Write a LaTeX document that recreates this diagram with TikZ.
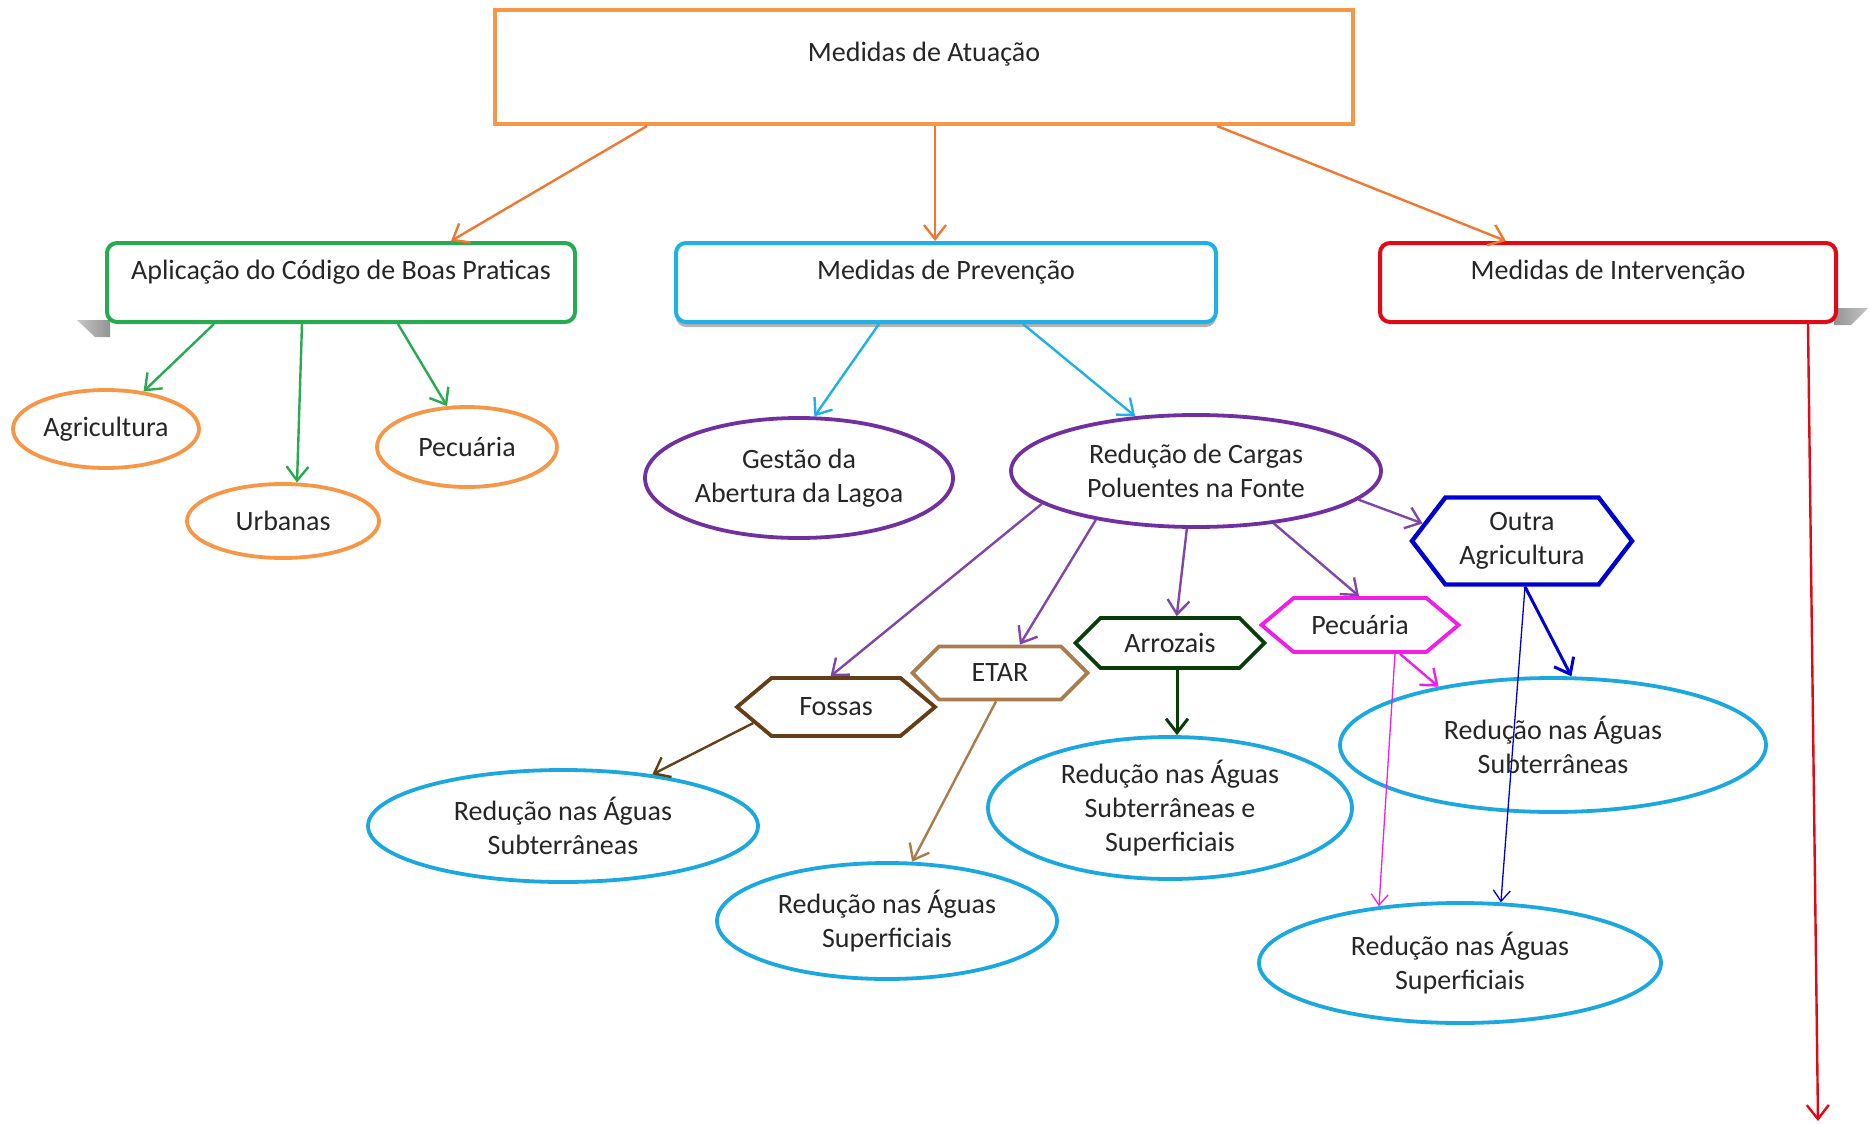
\documentclass[tikz,border=0pt]{standalone}
\usepackage{fontspec}
\setmainfont{Carlito}
\usetikzlibrary{arrows.meta,shapes.geometric,shapes.symbols,shadows}
\definecolor{txt}{RGB}{38,38,38}
\definecolor{orng}{RGB}{247,150,70}
\definecolor{orarrow}{RGB}{240,120,50}
\definecolor{grn}{RGB}{40,170,80}
\definecolor{sky}{RGB}{30,176,230}
\definecolor{cyanell}{RGB}{27,168,222}
\definecolor{redb}{RGB}{225,10,20}
\definecolor{purp}{RGB}{112,48,160}
\definecolor{purparrow}{RGB}{128,70,170}
\definecolor{navy}{RGB}{0,0,210}
\definecolor{mag}{RGB}{240,30,230}
\definecolor{dgreen}{RGB}{10,60,10}
\definecolor{tanc}{RGB}{168,124,76}
\definecolor{brwn}{RGB}{100,62,22}
\begin{document}
\begin{tikzpicture}[x=0.5pt,y=-0.5pt,
  font=\fontsize{14}{17}\selectfont, text=txt,
  box/.style={draw, fill=white, line width=2pt, inner sep=0pt, text height=18.2pt, text depth=21.3pt, rounded corners=5pt},
  ell/.style={ellipse, draw, line width=1.9pt, inner sep=0pt, align=center},
  hexa/.style={signal, signal to=east and west, signal pointer angle=90, draw, line width=1.9pt, inner sep=0pt, align=center},
  arr/.style={line width=1.2pt, -{Straight Barb[length=7pt,width=11pt]}},
  thinarr/.style={line width=0.65pt, -{Straight Barb[length=5.5pt,width=8.5pt]}}
]
\fill[white] (0,0) rectangle (1869,1124);
\useasboundingbox (0,0) rectangle (1869,1124);

% shadow tabs
\shade[left color=gray!45, right color=gray!85] (77,320) -- (110,320) -- (110,337) -- (95,337) -- cycle;
\shade[left color=gray!85, right color=gray!45] (1834,308) -- (1868,308) -- (1851,325) -- (1834,325) -- cycle;

% boxes
\node[box, draw=orng, rounded corners=0pt, minimum width=429pt, text height=25.7pt, text depth=31.3pt] (top) at (924,67) {Medidas de Atuação};
\node[box, draw=grn, minimum width=234pt] (boas) at (341,282.5) {Aplicação do Código de Boas Praticas};
\node[box, draw=sky, minimum width=270pt, drop shadow={shadow xshift=0pt,shadow yshift=-2.5pt,opacity=0.5,fill=black!60}] (prev) at (946,282.5) {Medidas de Prevenção};
\node[box, draw=redb, minimum width=228pt] (interv) at (1608,282.5) {Medidas de Intervenção};

% ellipses
\node[ell, draw=orng, minimum width=93pt, minimum height=39pt] (agri) at (106,429) {Agricultura};
\node[ell, draw=orng, minimum width=96pt, minimum height=37pt] (urb) at (283,521) {Urbanas};
\node[ell, draw=orng, minimum width=90pt, minimum height=40pt] (pecO) at (467,447) {Pecuária};
\node[ell, draw=purp, minimum width=154pt, minimum height=60pt] (gest) at (799,478) {Gestão da\\Abertura da Lagoa};
\node[ell, draw=purp, minimum width=185pt, minimum height=56pt] (cargas) at (1196,471) {Redução de Cargas\\Poluentes na Fonte};
\node[ell, draw=cyanell, minimum width=195pt, minimum height=56pt] (subL) at (563,826) {Redução nas Águas\\Subterrâneas};
\node[ell, draw=cyanell, minimum width=170pt, minimum height=58pt] (supM) at (887,921) {Redução nas Águas\\Superficiais};
\node[ell, draw=cyanell, minimum width=182pt, minimum height=71pt] (ambos) at (1170,808) {Redução nas Águas\\Subterrâneas e\\Superficiais};
\node[ell, draw=cyanell, minimum width=213pt, minimum height=67pt] (subR) at (1553,745) {Redução nas Águas\\Subterrâneas};
\node[ell, draw=cyanell, minimum width=201pt, minimum height=60pt] (supR) at (1460,963) {Redução nas Águas\\Superficiais};

% hexagons
\node[hexa, draw=navy, line width=2.2pt, signal pointer angle=105, minimum width=110pt, minimum height=43.5pt] (outra) at (1522,541) {Outra\\Agricultura};
\node[hexa, draw=mag, signal pointer angle=80, minimum width=98.5pt, minimum height=27pt] (pecM) at (1360,625) {Pecuária};
\node[hexa, draw=dgreen, minimum width=94.5pt, minimum height=25pt] (arroz) at (1170,643) {Arrozais};
\node[hexa, draw=tanc, minimum width=87.5pt, minimum height=26.5pt] (etar) at (1000,673) {ETAR};
\node[hexa, draw=brwn, signal pointer angle=80, minimum width=99pt, minimum height=29pt] (fossas) at (836,707) {Fossas};

\coordinate (redend) at (1818,1121);

% orange arrows
\draw[arr, orarrow] ([xshift=-138.5pt]top.south) -- ([xshift=55pt]boas.north);
\draw[arr, orarrow] ([xshift=5.5pt]top.south) -- ([xshift=-5.5pt]prev.north);
\draw[arr, orarrow] ([xshift=146.5pt]top.south) -- ([xshift=-51pt]interv.north);

% green arrows
\draw[arr, grn] ([xshift=-63.5pt]boas.south) -- (agri.45);
\draw[arr, grn] ([xshift=-19.5pt]boas.south) -- (urb.70);
\draw[arr, grn] ([xshift=28.5pt]boas.south) -- (pecO.116);

% blue arrows
\draw[arr, sky] ([xshift=-33.5pt]prev.south) -- (gest.76);
\draw[arr, sky] ([xshift=38.5pt]prev.south) -- (cargas.138);

% purple arrows
\draw[arr, purparrow] (cargas.192) -- (fossas.100);
\draw[arr, purparrow] (cargas.206) -- (etar.55);
\draw[arr, purparrow] (cargas.261) -- (arroz.76);
\draw[arr, purparrow] (cargas.326) -- (pecM.92);
\draw[arr, purparrow] (cargas.350) -- (outra.170);

% lower arrows
\draw[arr, brwn] (fossas.191) -- (subL.30);
\draw[arr, tanc] (etar.262) -- (supM.67);
\draw[arr, dgreen, line width=1.5pt] ([xshift=3.5pt]arroz.south) -- ([xshift=3.5pt]ambos.north);
\draw[arr, mag] ([xshift=20pt]pecM.south) -- (subR.153);
\draw[thinarr, mag] ([xshift=17.5pt]pecM.south) -- (supR.145);
\draw[arr, navy, line width=1.5pt] ([xshift=1.5pt]outra.south) -- (subR.75);
\draw[thinarr, navy] ([xshift=1.5pt]outra.south) -- (supR.56);

% red arrow
\draw[arr, redb] ([xshift=100pt]interv.south) -- (redend);
\end{tikzpicture}
\end{document}
